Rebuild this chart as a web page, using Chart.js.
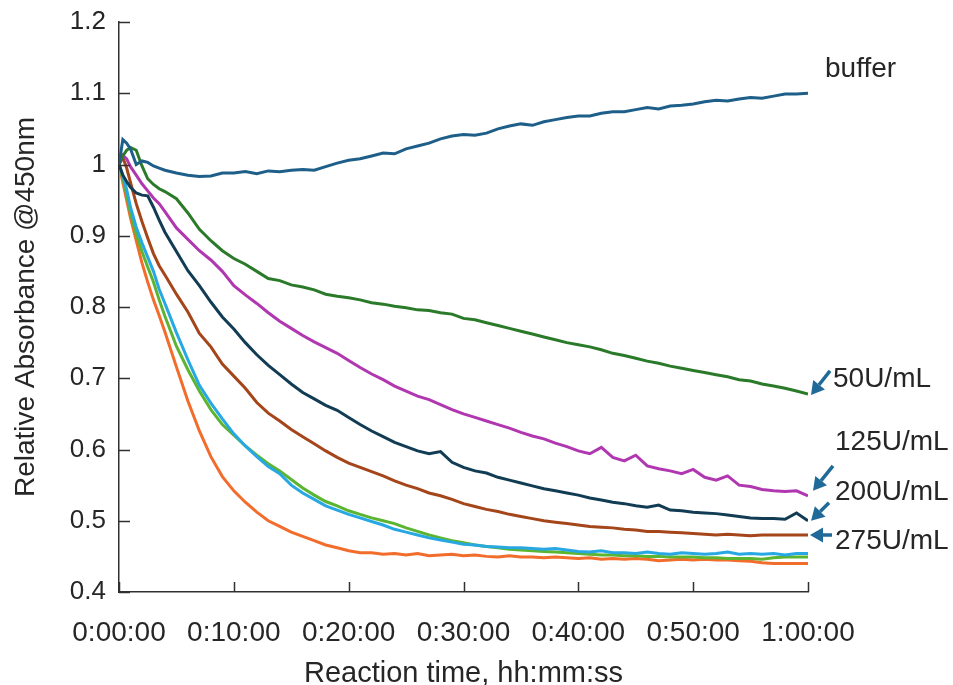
<!DOCTYPE html>
<html>
<head>
<meta charset="utf-8">
<script src="https://cdn.jsdelivr.net/npm/chart.js@4.4.1/dist/chart.umd.min.js"></script>
<style>
  html, body { margin: 0; padding: 0; background: #fff; }
</style>
</head>
<body>
<canvas id="absChart" width="953" height="685"></canvas>
<script>
// reaction time in seconds
const timesSec = [0, 20, 40, 60, 90, 120, 150, 180, 210, 240,
  300, 360, 420, 480, 540, 600, 660, 720, 780, 840, 900, 960, 1020, 1080, 1140,
  1200, 1260, 1320, 1380, 1440, 1500, 1560, 1620, 1680, 1740, 1800, 1860, 1920, 1980, 2040,
  2100, 2160, 2220, 2280, 2340, 2400, 2460, 2520, 2580, 2640, 2700, 2760, 2820, 2880, 2940,
  3000, 3060, 3120, 3180, 3240, 3300, 3360, 3420, 3480, 3540, 3600];

const bufferVals = [1.000, 1.035, 1.030, 1.022, 1.000, 1.005, 1.003, 0.998, 0.995, 0.992,
  0.988, 0.985, 0.983, 0.984, 0.988, 0.988, 0.990, 0.987, 0.991, 0.990, 0.992, 0.993, 0.992, 0.997, 1.002,
  1.006, 1.008, 1.012, 1.016, 1.015, 1.022, 1.026, 1.030, 1.036, 1.040, 1.042, 1.041, 1.044, 1.050, 1.054,
  1.057, 1.055, 1.060, 1.063, 1.066, 1.068, 1.068, 1.072, 1.074, 1.074, 1.077, 1.080, 1.078, 1.082, 1.083,
  1.085, 1.088, 1.090, 1.089, 1.092, 1.094, 1.093, 1.096, 1.099, 1.099, 1.100];

const u50Vals = [1.000, 1.012, 1.020, 1.024, 1.020, 0.998, 0.980, 0.972, 0.966, 0.962,
  0.952, 0.932, 0.909, 0.893, 0.879, 0.868, 0.860, 0.850, 0.840, 0.837, 0.831, 0.828, 0.824, 0.818, 0.815,
  0.813, 0.810, 0.806, 0.804, 0.801, 0.799, 0.796, 0.795, 0.792, 0.790, 0.784, 0.782, 0.778, 0.774, 0.770,
  0.766, 0.762, 0.758, 0.754, 0.750, 0.747, 0.744, 0.740, 0.735, 0.732, 0.728, 0.724, 0.721, 0.717, 0.714,
  0.711, 0.708, 0.705, 0.702, 0.698, 0.696, 0.692, 0.689, 0.686, 0.682, 0.678];

const u125Vals = [1.000, 1.013, 1.008, 0.997, 0.985, 0.973, 0.963, 0.953, 0.945, 0.934,
  0.911, 0.895, 0.879, 0.866, 0.850, 0.830, 0.817, 0.805, 0.792, 0.780, 0.770, 0.760, 0.751, 0.743, 0.735,
  0.725, 0.715, 0.706, 0.698, 0.689, 0.682, 0.675, 0.670, 0.663, 0.656, 0.650, 0.645, 0.640, 0.635, 0.630,
  0.624, 0.619, 0.615, 0.609, 0.604, 0.598, 0.594, 0.603, 0.589, 0.584, 0.592, 0.577, 0.573, 0.570, 0.566,
  0.572, 0.561, 0.557, 0.563, 0.550, 0.548, 0.544, 0.542, 0.541, 0.542, 0.535];

const u200Vals = [1.000, 0.985, 0.976, 0.968, 0.960, 0.957, 0.956, 0.940, 0.922, 0.905,
  0.878, 0.851, 0.830, 0.807, 0.786, 0.769, 0.750, 0.733, 0.718, 0.705, 0.692, 0.680, 0.671, 0.662, 0.655,
  0.645, 0.635, 0.626, 0.618, 0.610, 0.604, 0.598, 0.594, 0.597, 0.582, 0.575, 0.570, 0.567, 0.561, 0.557,
  0.553, 0.549, 0.545, 0.542, 0.539, 0.536, 0.532, 0.529, 0.526, 0.524, 0.521, 0.519, 0.522, 0.515, 0.514,
  0.512, 0.511, 0.510, 0.508, 0.506, 0.504, 0.503, 0.503, 0.502, 0.511, 0.500];

const u275Vals = [1.000, 1.010, 0.995, 0.975, 0.945, 0.920, 0.897, 0.875, 0.858, 0.845,
  0.818, 0.793, 0.763, 0.744, 0.720, 0.703, 0.686, 0.666, 0.651, 0.640, 0.628, 0.618, 0.608, 0.598, 0.589,
  0.581, 0.575, 0.569, 0.563, 0.556, 0.550, 0.545, 0.539, 0.535, 0.530, 0.524, 0.520, 0.516, 0.513, 0.509,
  0.506, 0.503, 0.500, 0.498, 0.496, 0.494, 0.492, 0.491, 0.490, 0.488, 0.487, 0.485, 0.485, 0.484, 0.483,
  0.482, 0.481, 0.480, 0.481, 0.480, 0.479, 0.480, 0.480, 0.480, 0.480, 0.480];

const lightBlueVals = [1.000, 0.985, 0.965, 0.940, 0.912, 0.890, 0.870, 0.850, 0.825, 0.805,
  0.764, 0.726, 0.690, 0.665, 0.643, 0.622, 0.605, 0.590, 0.576, 0.566, 0.550, 0.539, 0.530, 0.521, 0.515,
  0.509, 0.504, 0.499, 0.494, 0.488, 0.484, 0.480, 0.476, 0.473, 0.470, 0.467, 0.466, 0.464, 0.463, 0.462,
  0.462, 0.461, 0.460, 0.461, 0.459, 0.457, 0.456, 0.458, 0.455, 0.455, 0.454, 0.456, 0.454, 0.453, 0.455,
  0.454, 0.453, 0.454, 0.456, 0.453, 0.454, 0.453, 0.454, 0.452, 0.454, 0.454];

const lightGreenVals = [1.000, 0.980, 0.958, 0.932, 0.902, 0.878, 0.856, 0.835, 0.810, 0.787,
  0.745, 0.712, 0.682, 0.656, 0.635, 0.620, 0.605, 0.592, 0.580, 0.570, 0.558, 0.546, 0.536, 0.527, 0.521,
  0.514, 0.509, 0.504, 0.500, 0.496, 0.490, 0.485, 0.480, 0.476, 0.472, 0.469, 0.466, 0.464, 0.462, 0.460,
  0.459, 0.458, 0.457, 0.456, 0.455, 0.454, 0.453, 0.452, 0.452, 0.451, 0.451, 0.450, 0.450, 0.449, 0.449,
  0.449, 0.448, 0.448, 0.447, 0.447, 0.447, 0.446, 0.448, 0.449, 0.449, 0.449];

const orangeVals = [1.000, 0.975, 0.950, 0.925, 0.893, 0.862, 0.835, 0.810, 0.788, 0.765,
  0.716, 0.668, 0.626, 0.590, 0.562, 0.542, 0.526, 0.512, 0.500, 0.492, 0.484, 0.478, 0.472, 0.466, 0.462,
  0.458, 0.455, 0.455, 0.453, 0.454, 0.452, 0.454, 0.451, 0.452, 0.453, 0.451, 0.452, 0.450, 0.449, 0.451,
  0.449, 0.449, 0.448, 0.449, 0.448, 0.447, 0.448, 0.446, 0.447, 0.446, 0.447, 0.446, 0.444, 0.445, 0.446,
  0.445, 0.446, 0.445, 0.445, 0.444, 0.443, 0.441, 0.440, 0.440, 0.440, 0.440];

const xTicks = [0, 600, 1200, 1800, 2400, 3000, 3600];
const xTickLabels = ['0:00:00', '0:10:00', '0:20:00', '0:30:00', '0:40:00', '0:50:00', '1:00:00'];
const yTicks = [0.4, 0.5, 0.6, 0.7, 0.8, 0.9, 1.0, 1.1, 1.2];
const yTickLabels = ['0.4', '0.5', '0.6', '0.7', '0.8', '0.9', '1', '1.1', '1.2'];

const textColor = '#262626';
const axisColor = '#303030';
const arrowColor = '#1f6a98';
const fontFamily = '"Liberation Sans", Arial, sans-serif';

function toPoints(vals) {
    return vals.map((v, i) => ({ x: timesSec[i], y: v }));
}

// labels at the right with arrows pointing at the line ends
const sideLabels = [
    { text: 'buffer', dx: 17, py: 69 },
    { text: '50U/mL', dx: 25, py: 379 },
    { text: '125U/mL', dx: 27, py: 442 },
    { text: '200U/mL', dx: 27, py: 492 },
    { text: '275U/mL', dx: 27, py: 541 }
];
// dataset index, head offset and tail offset from last point
const sideArrows = [
    { ds: 1, hx: 3, hy: 1, tx: 22, ty: -23 },
    { ds: 2, hx: 5, hy: -5, tx: 25, ty: -30 },
    { ds: 3, hx: 3, hy: 0, tx: 21, ty: -18 },
    { ds: 4, hx: 2, hy: 0, tx: 24, ty: 0 }
];

const inwardTicks = {
    id: 'inwardTicks',
    afterDatasetsDraw(chart) {
        const { ctx, chartArea } = chart;
        const x = chart.scales.x, y = chart.scales.y;
        ctx.save();
        ctx.strokeStyle = axisColor;
        ctx.lineWidth = 1.5;
        ctx.beginPath();
        y.ticks.forEach(t => {
            const py = Math.round(y.getPixelForValue(t.value)) + 0.5;
            ctx.moveTo(chartArea.left, py);
            ctx.lineTo(chartArea.left + 11, py);
        });
        x.ticks.forEach(t => {
            const px = Math.round(x.getPixelForValue(t.value)) + 0.5;
            ctx.moveTo(px, chartArea.bottom);
            ctx.lineTo(px, chartArea.bottom - 10);
        });
        ctx.stroke();
        ctx.restore();
    }
};

const sideNotes = {
    id: 'sideNotes',
    afterDraw(chart) {
        const { ctx, chartArea } = chart;
        ctx.save();
        ctx.fillStyle = textColor;
        ctx.font = '28px ' + fontFamily;
        ctx.textBaseline = 'middle';
        ctx.textAlign = 'left';
        sideLabels.forEach(l => ctx.fillText(l.text, chartArea.right + l.dx, l.py));

        ctx.strokeStyle = arrowColor;
        ctx.fillStyle = arrowColor;
        ctx.lineWidth = 3.5;
        sideArrows.forEach(a => {
            const meta = chart.getDatasetMeta(a.ds);
            const last = meta.data[meta.data.length - 1];
            const hx = last.x + a.hx, hy = last.y + a.hy;
            const tx = last.x + a.tx, ty = last.y + a.ty;
            const ang = Math.atan2(hy - ty, hx - tx);
            const len = 13, half = 7.5;
            const bx = hx - len * Math.cos(ang), by = hy - len * Math.sin(ang);
            ctx.beginPath();
            ctx.moveTo(tx, ty);
            ctx.lineTo(bx, by);
            ctx.stroke();
            ctx.beginPath();
            ctx.moveTo(hx, hy);
            ctx.lineTo(bx + half * Math.sin(ang), by - half * Math.cos(ang));
            ctx.lineTo(bx - half * Math.sin(ang), by + half * Math.cos(ang));
            ctx.closePath();
            ctx.fill();
        });
        ctx.restore();
    }
};

const ctx = document.getElementById('absChart').getContext('2d');
const absChart = new Chart(ctx, {
    type: 'line',
    data: {
        datasets: [
            { label: 'buffer', data: toPoints(bufferVals), borderColor: '#1e5f8a' },
            { label: '50U/mL', data: toPoints(u50Vals), borderColor: '#2a7a2a' },
            { label: '125U/mL', data: toPoints(u125Vals), borderColor: '#b037b0' },
            { label: '200U/mL', data: toPoints(u200Vals), borderColor: '#113c53' },
            { label: '275U/mL', data: toPoints(u275Vals), borderColor: '#a4451a' },
            { label: 'light blue', data: toPoints(lightBlueVals), borderColor: '#27a8e3' },
            { label: 'light green', data: toPoints(lightGreenVals), borderColor: '#5cb531' },
            { label: 'orange', data: toPoints(orangeVals), borderColor: '#f26c2b' }
        ]
    },
    options: {
        responsive: false,
        animation: false,
        layout: { padding: { left: 0, right: 145, top: 22, bottom: 0 } },
        elements: {
            point: { radius: 0 },
            line: { borderWidth: 3, tension: 0, fill: false }
        },
        plugins: {
            legend: { display: false },
            tooltip: { enabled: false }
        },
        scales: {
            x: {
                type: 'linear',
                min: 0,
                max: 3600,
                afterBuildTicks: s => { s.ticks = xTicks.map(v => ({ value: v })); },
                afterFit: s => { s.height = 93; },
                ticks: {
                    callback: v => xTickLabels[xTicks.indexOf(v)],
                    color: textColor,
                    font: { family: fontFamily, size: 28 },
                    padding: 24,
                    maxRotation: 0,
                    autoSkip: false
                },
                grid: { drawOnChartArea: false, drawTicks: false },
                border: { color: axisColor, width: 1.5 },
                title: {
                    display: true,
                    text: 'Reaction time, hh:mm:ss',
                    color: textColor,
                    font: { family: fontFamily, size: 29, lineHeight: 1 },
                    padding: { top: 0, bottom: -3 }
                }
            },
            y: {
                min: 0.4,
                max: 1.2,
                afterBuildTicks: s => { s.ticks = yTicks.map(v => ({ value: v })); },
                afterFit: s => { s.width = 119; s.paddingTop = 0; s.paddingBottom = 0; },
                ticks: {
                    callback: v => yTickLabels[yTicks.findIndex(t => Math.abs(t - v) < 1e-6)],
                    color: textColor,
                    font: { family: fontFamily, size: 26 },
                    padding: 13
                },
                grid: { drawOnChartArea: false, drawTicks: false },
                border: { color: axisColor, width: 1.5 },
                title: {
                    display: true,
                    text: 'Relative Absorbance @450nm',
                    color: textColor,
                    font: { family: fontFamily, size: 28, lineHeight: 1 },
                    padding: { top: 12, bottom: 0 }
                }
            }
        }
    },
    plugins: [inwardTicks, sideNotes]
});
</script>
</body>
</html>
